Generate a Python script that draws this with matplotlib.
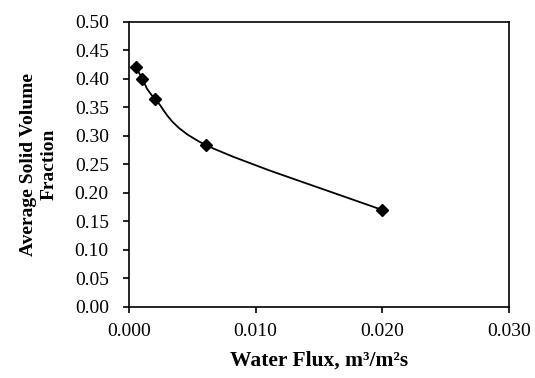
import matplotlib
matplotlib.use("Agg")
import matplotlib.pyplot as plt
from matplotlib.path import Path
from matplotlib.patches import PathPatch
import numpy as np

# data
water_flux = [0.00055, 0.00105, 0.00205, 0.00605, 0.0200]
solid_fraction = [0.421, 0.400, 0.365, 0.284, 0.170]
x_ticks = [0.000, 0.010, 0.020, 0.030]
y_ticks = [0.00, 0.05, 0.10, 0.15, 0.20, 0.25, 0.30, 0.35, 0.40, 0.45, 0.50]

plt.rcParams['font.family'] = ['Liberation Serif', 'DejaVu Serif']


def smooth_path(xs, ys):
    # excel style smoothed line: cubic bezier segments through the points
    pts = np.column_stack([xs, ys])
    n = len(pts)
    verts = [pts[0]]
    codes = [Path.MOVETO]
    for i in range(n - 1):
        p0 = pts[max(i - 1, 0)]
        p1 = pts[i]
        p2 = pts[i + 1]
        p3 = pts[min(i + 2, n - 1)]
        c1 = p1 + (p2 - p0) / 6.0
        c2 = p2 - (p3 - p1) / 6.0
        verts += [c1, c2, p2]
        codes += [Path.CURVE4] * 3
    return Path(verts, codes)


fig, ax = plt.subplots(figsize=(5.35, 3.78), dpi=100)
fig.subplots_adjust(left=0.241, right=0.951, top=0.943, bottom=0.188)

ax.add_patch(PathPatch(smooth_path(water_flux, solid_fraction),
                       facecolor='none', edgecolor='black', lw=1.3, zorder=2))
ax.plot(water_flux, solid_fraction, ls='none', marker='D', ms=6.5,
        color='black', zorder=3)

ax.set_xlim(0, 0.030)
ax.set_ylim(0, 0.50)
ax.set_xticks(x_ticks)
ax.set_yticks(y_ticks)
ax.xaxis.set_major_formatter(matplotlib.ticker.FormatStrFormatter('%.3f'))
ax.yaxis.set_major_formatter(matplotlib.ticker.FormatStrFormatter('%.2f'))
ax.tick_params(direction='out', length=4.5, width=1.2, labelsize=14, color='black')
ax.tick_params(axis='y', pad=10)
ax.tick_params(axis='x', pad=7)
for s in ax.spines.values():
    s.set_linewidth(1.2)

ax.set_xlabel('Water Flux, m³/m²s', fontsize=15.5, fontweight='bold', labelpad=8)
ax.set_ylabel('Average Solid Volume\nFraction', fontsize=14, fontweight='bold',
              labelpad=12, linespacing=1.3)

fig.savefig('out.png', dpi=100)
